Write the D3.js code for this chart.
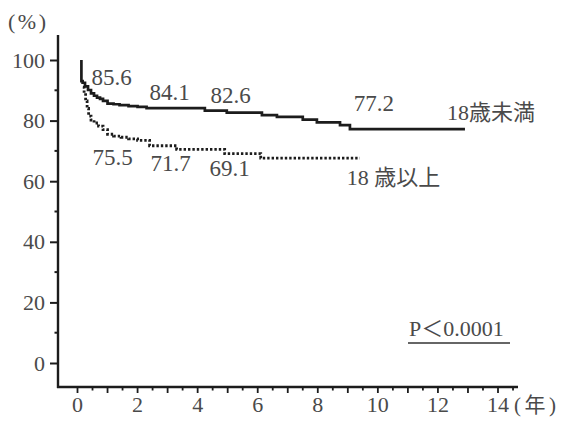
<!DOCTYPE html>
<html>
<head>
<meta charset="utf-8">
<script src="https://cdn.jsdelivr.net/npm/d3@7"></script>
<style>
  html, body { margin: 0; padding: 0; background: #fff; }
  svg { display: block; }
  text { font-family: "Liberation Serif", "Noto Sans CJK JP", serif; fill: #4a4a4a; }
</style>
</head>
<body>
<svg id="chart" width="561" height="427"></svg>
<script>
// Survival by age group (Kaplan–Meier style step curves)
const groups = ["18歳未満", "18 歳以上"];

// Under 18: time (years) and survival (%)
const timeUnder18 = [0.13, 0.13, 0.17, 0.25, 0.35, 0.45, 0.55, 0.65, 0.75, 0.85, 1.0, 1.2, 1.4, 1.7, 2.0, 2.3, 4.24, 4.97, 6.14, 6.64, 7.5, 7.97, 8.74, 9.07, 12.9];
const survUnder18 = [100, 93, 92.5, 91.3, 90.1, 89.0, 88.2, 87.6, 87.2, 86.5, 85.6, 85.4, 85.1, 84.8, 84.5, 84.1, 83.3, 82.6, 81.8, 81.2, 80.3, 79.4, 78.5, 77.2, 77.2];

// 18 and over
const timeOver18 = [0.18, 0.22, 0.27, 0.32, 0.37, 0.45, 0.55, 0.7, 0.85, 1.0, 1.2, 1.45, 1.7, 2.0, 2.4, 3.3, 4.9, 6.1, 9.4];
const survOver18 = [91, 89, 86.5, 84, 81.5, 80.2, 79.2, 78.2, 77.0, 75.5, 74.9, 74.5, 74.0, 73.5, 71.7, 70.5, 69.1, 67.6, 67.6];

// Survival rates printed at 1, 3, 5 and 10 years
const rateYearsUnder18 = [1, 3, 5, 10];
const rateValuesUnder18 = [85.6, 84.1, 82.6, 77.2];
const rateYearsOver18 = [1, 3, 5];
const rateValuesOver18 = [75.5, 71.7, 69.1];

const yTicks = [0, 20, 40, 60, 80, 100];
const xTicks = [0, 2, 4, 6, 8, 10, 12, 14];
const pValueText = "P＜0.0001";

const svg = d3.select("#chart");

const x = d3.scaleLinear().domain([0, 14]).range([77.5, 498]);
const y = d3.scaleLinear().domain([0, 100]).range([363, 60]);

const axisX0 = 58, axisY0 = 387;
const ink = "#1c1c1c";

// Y axis line and ticks
svg.append("line").attr("x1", axisX0).attr("x2", axisX0).attr("y1", 35).attr("y2", axisY0 + 1)
  .attr("stroke", ink).attr("stroke-width", 2.4);
const yAxis = d3.axisLeft(y).tickValues(yTicks).tickSize(8).tickPadding(5).tickFormat(d3.format("d"));
const gy = svg.append("g").attr("transform", `translate(${axisX0},0)`).call(yAxis);
gy.attr("font-family", null);
gy.select(".domain").remove();
gy.selectAll(".tick line").attr("stroke", ink).attr("stroke-width", 2);
gy.selectAll(".tick text").attr("font-size", 22).attr("fill", "#4a4a4a")
  .style("font-family", "'Liberation Serif', serif");
const yMinor = d3.range(10, 100, 20);
svg.append("g").selectAll("line").data(yMinor).join("line")
  .attr("x1", axisX0 - 3.5).attr("x2", axisX0).attr("y1", d => y(d)).attr("y2", d => y(d))
  .attr("stroke", ink).attr("stroke-width", 2);

// X axis line and ticks
svg.append("line").attr("x1", axisX0 - 1).attr("x2", 518).attr("y1", axisY0).attr("y2", axisY0)
  .attr("stroke", ink).attr("stroke-width", 2.4);
const xMajor = d3.range(0, 15, 1);
const xMinor = d3.range(0.5, 15, 1);
svg.append("g").selectAll("line").data(xMajor).join("line")
  .attr("x1", d => x(d)).attr("x2", d => x(d)).attr("y1", axisY0).attr("y2", axisY0 + 6)
  .attr("stroke", ink).attr("stroke-width", 1.8);
svg.append("g").selectAll("line").data(xMinor).join("line")
  .attr("x1", d => x(d)).attr("x2", d => x(d)).attr("y1", axisY0).attr("y2", axisY0 + 3.5)
  .attr("stroke", ink).attr("stroke-width", 1.8);
svg.append("g").selectAll("text").data(xTicks).join("text")
  .attr("x", d => x(d)).attr("y", 411.5).attr("text-anchor", "middle")
  .attr("font-size", 22).text(d => d);

// Axis units
svg.append("text").attr("x", 8).attr("y", 29).attr("font-size", 22)
  .attr("letter-spacing", 2.5).text("(%)");
svg.append("text").attr("x", 514).attr("y", 411.5).attr("font-size", 21)
  .attr("letter-spacing", 3.5).text("(年)");

// Survival curves
const line = d3.line().x(d => x(d[0])).y(d => y(d[1])).curve(d3.curveStepAfter);
svg.append("path")
  .datum(d3.zip(timeUnder18, survUnder18))
  .attr("d", line).attr("fill", "none").attr("stroke", ink).attr("stroke-width", 2.7);
svg.append("path")
  .datum(d3.zip(timeOver18, survOver18))
  .attr("d", line).attr("fill", "none").attr("stroke", ink).attr("stroke-width", 2.8)
  .attr("stroke-dasharray", "2.4,2");

// Rate labels, placed relative to the curve point they describe
const nudgeUnder18 = [[4, -18.5], [2, -8], [3, -9.5], [-4, -18]];
const nudgeOver18 = [[5, 31], [3, 25.5], [2, 22.5]];
svg.append("g").selectAll("text").data(d3.zip(rateYearsUnder18, rateValuesUnder18, nudgeUnder18)).join("text")
  .attr("x", d => x(d[0]) + d[2][0]).attr("y", d => y(d[1]) + d[2][1])
  .attr("text-anchor", "middle").attr("font-size", 23).text(d => d[1].toFixed(1));
svg.append("g").selectAll("text").data(d3.zip(rateYearsOver18, rateValuesOver18, nudgeOver18)).join("text")
  .attr("x", d => x(d[0]) + d[2][0]).attr("y", d => y(d[1]) + d[2][1])
  .attr("text-anchor", "middle").attr("font-size", 23).text(d => d[1].toFixed(1));

// Group names at the end of each curve
svg.append("text").attr("x", x(timeUnder18[timeUnder18.length - 1]) - 18)
  .attr("y", y(survUnder18[survUnder18.length - 1]) - 9)
  .attr("font-size", 22).text(groups[0]);
svg.append("text").attr("x", x(timeOver18[timeOver18.length - 1]) - 13)
  .attr("y", y(survOver18[survOver18.length - 1]) + 27)
  .attr("font-size", 22).text(groups[1]);

// Log-rank p value
svg.append("text").attr("x", 409).attr("y", 336).attr("font-size", 22).text(pValueText);
svg.append("line").attr("x1", 408).attr("x2", 510).attr("y1", 343).attr("y2", 343)
  .attr("stroke", "#333").attr("stroke-width", 1.4);
</script>
</body>
</html>
